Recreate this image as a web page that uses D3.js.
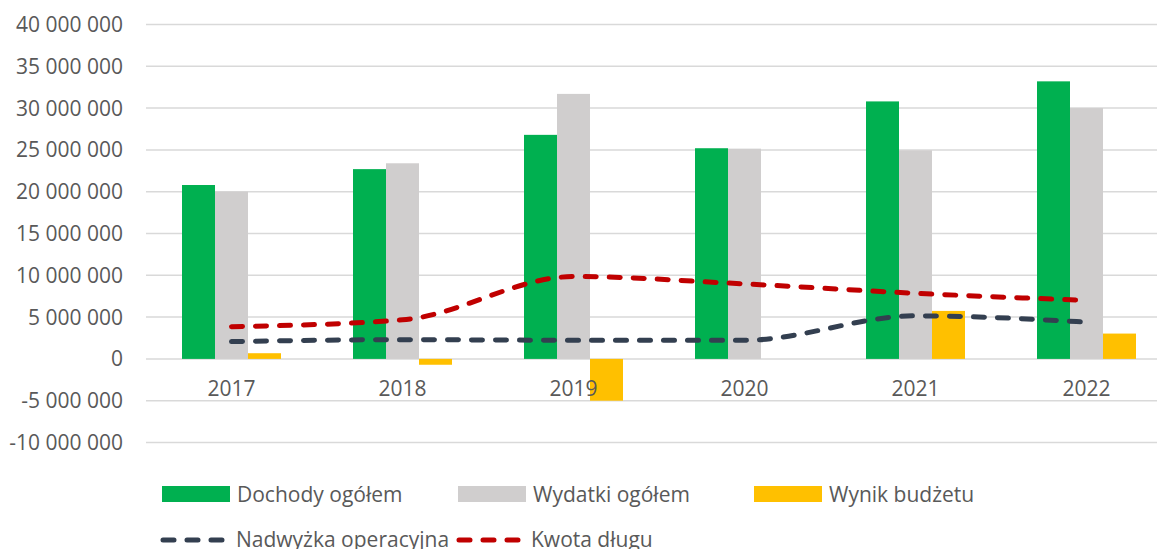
<!DOCTYPE html>
<html>
<head>
<meta charset="utf-8">
<script src="https://cdn.jsdelivr.net/npm/d3@7"></script>
<style>
  body { margin: 0; background: #fff; }
  svg text { font-family: "Open Sans", sans-serif; fill: #595959; }
</style>
</head>
<body>
<svg id="chart" width="1157" height="549"></svg>
<script>
// data
var years = ["2017", "2018", "2019", "2020", "2021", "2022"];
var dochody = [20800000, 22700000, 26800000, 25200000, 30800000, 33200000];
var wydatki = [20000000, 23400000, 31700000, 25150000, 24950000, 30000000];
var wynik = [680000, -700000, -5000000, 0, 5740000, 3030000];
var nadwyzka = [2070000, 2300000, 2230000, 2230000, 5150000, 4400000];
var dlug = [3860000, 4670000, 9850000, 8970000, 7850000, 7000000];
var yTicks = [-10000000, -5000000, 0, 5000000, 10000000, 15000000, 20000000, 25000000, 30000000, 35000000, 40000000];

var barSeries = [
  {name: "Dochody ogółem", values: dochody, color: "#00B050"},
  {name: "Wydatki ogółem", values: wydatki, color: "#D0CECE"},
  {name: "Wynik budżetu", values: wynik, color: "#FFC000"}
];
var lineSeries = [
  {name: "Nadwyżka operacyjna", values: nadwyzka, color: "#333F50"},
  {name: "Kwota długu", values: dlug, color: "#C00000"}
];

var svg = d3.select("#chart");
var W = +svg.attr("width");

var pl = d3.formatLocale({decimal: ",", thousands: " ", grouping: [3], currency: ["", ""], minus: "-"});
var fmt = pl.format(",.0f");

var x = d3.scaleBand()
    .domain(years)
    .range([146, 1172])
    .padding(0);

var groupW = 99;
var xs = d3.scaleBand()
    .domain(barSeries.map(function(d) { return d.name; }))
    .range([0, groupW]);

var y = d3.scaleLinear()
    .domain([-10000000, 40000000])
    .range([442.5, 24.5]);

// gridlines
svg.append("g").selectAll("line")
    .data(yTicks)
    .enter().append("line")
    .attr("x1", 146)
    .attr("x2", W)
    .attr("y1", function(d) { return y(d); })
    .attr("y2", function(d) { return y(d); })
    .attr("stroke", "#D9D9D9")
    .attr("stroke-width", 1.5);

// y axis labels
svg.append("g").selectAll("text")
    .data(yTicks)
    .enter().append("text")
    .attr("x", 123)
    .attr("y", function(d) { return y(d); })
    .attr("dy", "0.36em")
    .attr("text-anchor", "end")
    .style("font-size", "21px")
    .text(function(d) { return fmt(d); });

// bars
var off = (x.bandwidth() - groupW) / 2;
barSeries.forEach(function(s) {
  svg.append("g").selectAll("rect")
      .data(s.values)
      .enter().append("rect")
      .attr("x", function(d, i) { return x(years[i]) + off + xs(s.name); })
      .attr("width", xs.bandwidth())
      .attr("y", function(d) { return y(Math.max(0, d)); })
      .attr("height", function(d) { return Math.abs(y(d) - y(0)); })
      .attr("fill", s.color);
});

// x labels
svg.append("g").selectAll("text")
    .data(years)
    .enter().append("text")
    .attr("x", function(d) { return x(d) + x.bandwidth() / 2; })
    .attr("y", 396)
    .attr("text-anchor", "middle")
    .style("font-size", "21px")
    .text(function(d) { return d; });

// lines (smoothed like excel)
var line = d3.line()
    .x(function(d, i) { return x(years[i]) + x.bandwidth() / 2; })
    .y(function(d) { return y(d); })
    .curve(d3.curveMonotoneX);

lineSeries.forEach(function(s) {
  svg.append("path")
      .datum(s.values)
      .attr("d", line)
      .attr("fill", "none")
      .attr("stroke", s.color)
      .attr("stroke-width", 5)
      .attr("stroke-linecap", "round")
      .attr("stroke-dasharray", "11 13");
});

// legend
var leg1 = [
  {s: barSeries[0], x: 162},
  {s: barSeries[1], x: 458},
  {s: barSeries[2], x: 754}
];
leg1.forEach(function(l) {
  svg.append("rect")
      .attr("x", l.x).attr("y", 486)
      .attr("width", 68).attr("height", 16)
      .attr("fill", l.s.color);
  svg.append("text")
      .attr("x", l.x + 75).attr("y", 494)
      .attr("dy", "0.36em")
      .style("font-size", "21px")
      .text(l.s.name);
});

var leg2 = [
  {s: lineSeries[0], x: 160, tx: 236},
  {s: lineSeries[1], x: 456, tx: 531}
];
leg2.forEach(function(l) {
  svg.append("line")
      .attr("x1", l.x + 3).attr("x2", l.x + 66)
      .attr("y1", 540).attr("y2", 540)
      .attr("stroke", l.s.color)
      .attr("stroke-width", 5)
      .attr("stroke-linecap", "round")
      .attr("stroke-dasharray", "11 13");
  svg.append("text")
      .attr("x", l.tx).attr("y", 539)
      .attr("dy", "0.36em")
      .style("font-size", "21px")
      .text(l.s.name);
});
</script>
</body>
</html>
